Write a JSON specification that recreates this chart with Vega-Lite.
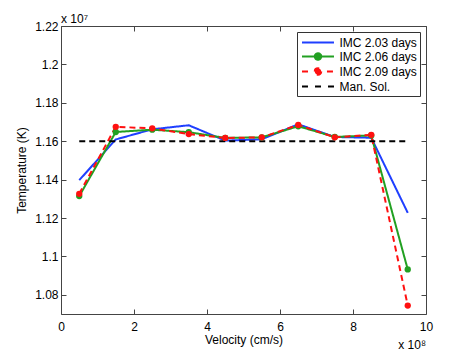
{
  "$schema": "https://vega.github.io/schema/vega-lite/v6.json",
  "width": 365,
  "height": 288,
  "autosize": {"type": "none"},
  "padding": {"left": 61, "top": 26, "right": 45, "bottom": 40},
  "background": "white",
  "title": {"text": "x 10⁷", "anchor": "start", "frame": "group", "fontSize": 12, "fontWeight": "normal", "font": "Liberation Sans", "offset": -6, "color": "black"},
  "config": {
    "font": "Liberation Sans",
    "view": {"stroke": "#444", "strokeWidth": 1},
    "axis": {"grid": false, "domain": false, "tickSize": 5, "offset": -5, "labelFlush": false, "tickColor": "#444", "labelFontSize": 12, "labelColor": "black", "titleFontSize": 12, "titleFontWeight": "normal", "titleColor": "black", "labelFont": "Liberation Sans", "titleFont": "Liberation Sans"},
    "legend": {"labelFont": "Liberation Sans", "labelFontSize": 12, "labelColor": "black"}
  },
  "resolve": {"axis": {"x": "independent", "y": "independent"}},
  "data": {"values": [
    {"s": "IMC 2.03 days", "v": 0.5, "t": 1.1397},
    {"s": "IMC 2.03 days", "v": 1.5, "t": 1.1609},
    {"s": "IMC 2.03 days", "v": 2.5, "t": 1.1662},
    {"s": "IMC 2.03 days", "v": 3.5, "t": 1.1683},
    {"s": "IMC 2.03 days", "v": 4.5, "t": 1.1603},
    {"s": "IMC 2.03 days", "v": 5.5, "t": 1.1610},
    {"s": "IMC 2.03 days", "v": 6.5, "t": 1.1688},
    {"s": "IMC 2.03 days", "v": 7.5, "t": 1.1622},
    {"s": "IMC 2.03 days", "v": 8.5, "t": 1.1618},
    {"s": "IMC 2.03 days", "v": 9.5, "t": 1.1227},
    {"s": "IMC 2.06 days", "v": 0.5, "t": 1.1314},
    {"s": "IMC 2.06 days", "v": 1.5, "t": 1.1648},
    {"s": "IMC 2.06 days", "v": 2.5, "t": 1.1660},
    {"s": "IMC 2.06 days", "v": 3.5, "t": 1.1647},
    {"s": "IMC 2.06 days", "v": 4.5, "t": 1.1617},
    {"s": "IMC 2.06 days", "v": 5.5, "t": 1.1620},
    {"s": "IMC 2.06 days", "v": 6.5, "t": 1.1678},
    {"s": "IMC 2.06 days", "v": 7.5, "t": 1.1622},
    {"s": "IMC 2.06 days", "v": 8.5, "t": 1.1630},
    {"s": "IMC 2.06 days", "v": 9.5, "t": 1.0932},
    {"s": "IMC 2.09 days", "v": 0.5, "t": 1.1326},
    {"s": "IMC 2.09 days", "v": 1.5, "t": 1.1675},
    {"s": "IMC 2.09 days", "v": 2.5, "t": 1.1667},
    {"s": "IMC 2.09 days", "v": 3.5, "t": 1.1637},
    {"s": "IMC 2.09 days", "v": 4.5, "t": 1.1617},
    {"s": "IMC 2.09 days", "v": 5.5, "t": 1.1620},
    {"s": "IMC 2.09 days", "v": 6.5, "t": 1.1685},
    {"s": "IMC 2.09 days", "v": 7.5, "t": 1.1620},
    {"s": "IMC 2.09 days", "v": 8.5, "t": 1.1633},
    {"s": "IMC 2.09 days", "v": 9.5, "t": 1.0744},
    {"s": "Man. Sol.", "v": 0.5, "t": 1.16},
    {"s": "Man. Sol.", "v": 9.5, "t": 1.16}
  ]},
  "layer": [
    {
      "mark": {"type": "line", "strokeWidth": 2},
      "encoding": {
        "x": {"field": "v", "type": "quantitative", "scale": {"domain": [0, 10], "nice": false, "zero": false},
              "axis": {"values": [0, 2, 4, 6, 8, 10], "title": "Velocity (cm/s)", "labelPadding": 7, "titlePadding": 2}},
        "y": {"field": "t", "type": "quantitative", "scale": {"domain": [1.07, 1.22], "nice": false, "zero": false},
              "axis": {"values": [1.08, 1.1, 1.12, 1.14, 1.16, 1.18, 1.2, 1.22], "format": "~g", "title": "Temperature (K)", "labelPadding": 3, "titlePadding": 6}},
        "color": {"field": "s", "type": "nominal",
                  "scale": {"domain": ["IMC 2.03 days", "IMC 2.06 days", "IMC 2.09 days", "Man. Sol."], "range": ["#1f3fff", "#22a022", "#ff1010", "#000000"]},
                  "legend": {"title": null, "orient": "top-right", "offset": 6, "padding": 3, "strokeColor": "#333", "fillColor": "white",
                             "symbolSize": 169, "symbolType": "M-2.46,0H2.46", "rowPadding": 0, "symbolOffset": 10.5, "labelOffset": 14,
                             "encode": {"symbols": {"update": {
                               "shape": {"signal": "datum.value == 'IMC 2.06 days' ? 'M-2.46,0H2.46M0.5,0A0.5,0.5 0 1,1 -0.5,0A0.5,0.5 0 1,1 0.5,0Z' : datum.value == 'IMC 2.09 days' ? 'M-2.46,0H-1.38M1.38,0H2.46M0.5,0A0.5,0.5 0 1,1 -0.5,0A0.5,0.5 0 1,1 0.5,0Z' : datum.value == 'Man. Sol.' ? 'M-2.46,0H-1.54M-0.46,0H0.46M1.54,0H2.46' : 'M-2.46,0H2.46'"},
                               "stroke": {"scale": "color", "field": "value"},
                               "fill": {"scale": "color", "field": "value"},
                               "strokeDash": {"value": []},
                               "size": {"value": 169},
                               "opacity": {"value": 1},
                               "strokeWidth": {"value": 2}}}}}},
        "strokeDash": {"field": "s", "type": "nominal",
                       "scale": {"domain": ["IMC 2.03 days", "IMC 2.06 days", "IMC 2.09 days", "Man. Sol."], "range": [[1, 0], [1, 0], [6, 4], [6, 4]]},
                       "legend": null}
      }
    },
    {
      "transform": [{"filter": "datum.s == 'IMC 2.06 days' || datum.s == 'IMC 2.09 days'"}],
      "mark": {"type": "point", "filled": true, "size": 40, "opacity": 1},
      "encoding": {
        "x": {"field": "v", "type": "quantitative", "axis": null},
        "y": {"field": "t", "type": "quantitative", "axis": null},
        "color": {"field": "s", "type": "nominal"}
      }
    },
    {
      "mark": {"type": "point", "opacity": 0},
      "encoding": {
        "x": {"field": "v", "type": "quantitative", "axis": {"orient": "top", "labels": false, "title": null, "values": [0, 2, 4, 6, 8, 10]}},
        "y": {"field": "t", "type": "quantitative", "axis": {"orient": "right", "labels": false, "title": null, "values": [1.08, 1.1, 1.12, 1.14, 1.16, 1.18, 1.2, 1.22]}}
      }
    },
    {
      "data": {"values": [{"v": 10, "t": 1.07, "lab": "x 10⁸"}]},
      "mark": {"type": "text", "align": "right", "baseline": "alphabetic", "dy": 35, "fontSize": 12, "font": "Liberation Sans", "color": "black"},
      "encoding": {
        "x": {"field": "v", "type": "quantitative", "axis": null},
        "y": {"field": "t", "type": "quantitative", "axis": null},
        "text": {"field": "lab"}
      }
    }
  ]
}
